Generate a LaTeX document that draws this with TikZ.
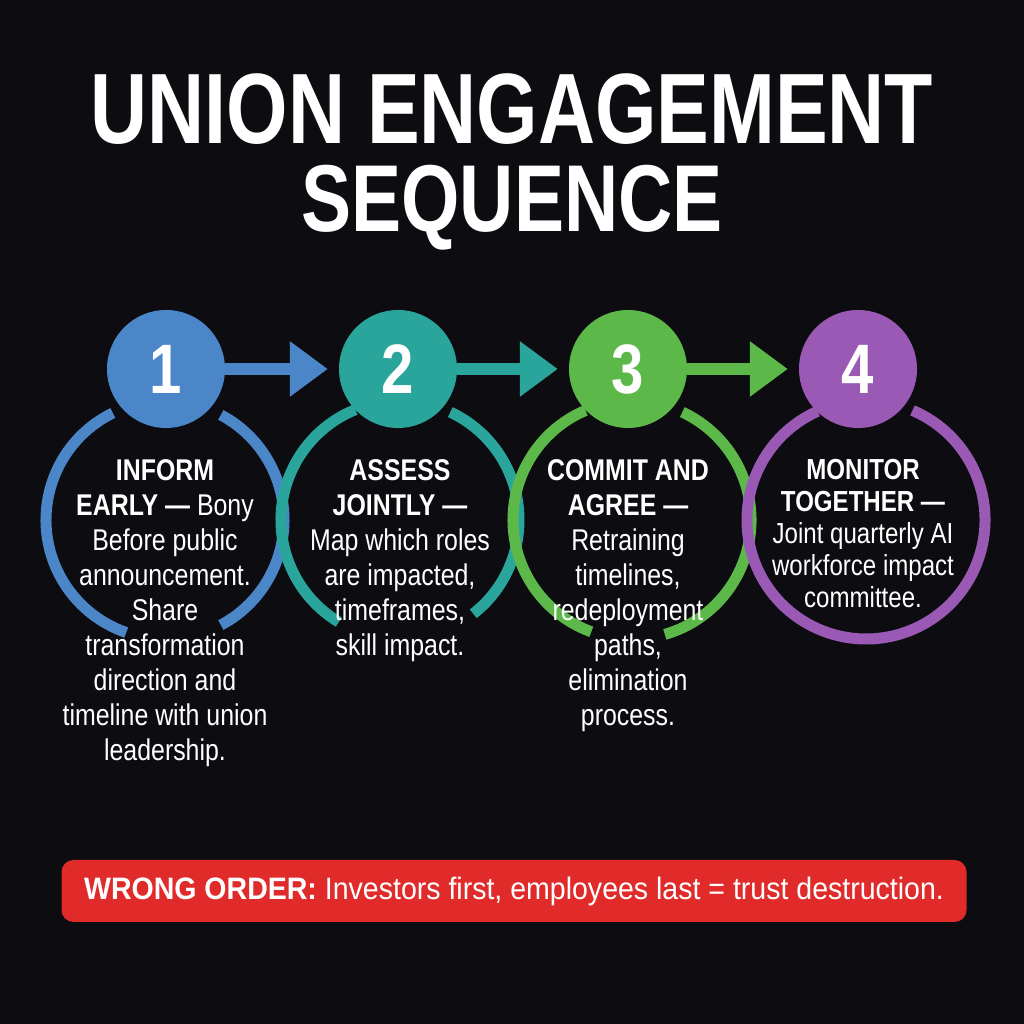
\documentclass[tikz,border=0pt]{standalone}
\usepackage{fontspec}
\setmainfont[FakeStretch=0.83]{Liberation Sans}
\newfontfamily\titlefont[FakeStretch=0.79]{Liberation Sans}
\newfontfamily\barfont[FakeStretch=0.92]{Liberation Sans}
\usetikzlibrary{arrows.meta}
\definecolor{bgcol}{HTML}{0D0D11}
\definecolor{cblue}{HTML}{4A86C8}
\definecolor{cteal}{HTML}{2AA59B}
\definecolor{cgreen}{HTML}{5DB84A}
\definecolor{cpurple}{HTML}{9B59B6}
\definecolor{cred}{HTML}{E12A2A}
\begin{document}
\begin{tikzpicture}[x=1pt,y=1pt,
		badge/.style={circle,fill=#1,minimum size=118pt,inner sep=0pt,text=white,font=\fontsize{70}{70}\selectfont\bfseries},
		ring/.style={draw=#1,line width=11pt},
		flow/.style={draw=#1,line width=12pt,-{Triangle[length=38pt,width=53pt]},shorten >=11pt},
		stagetext/.style={text=white,align=center,anchor=north,inner sep=0pt,font=\fontsize{30}{35}\selectfont},
		titletext/.style={text=white,align=center,anchor=north,inner sep=0pt,font=\titlefont\fontsize{100}{88}\selectfont\bfseries}]
		\fill [bgcol] (0,0) rectangle (1024,1024);
		\useasboundingbox (0,0) rectangle (1024,1024);
		\node [titletext] (title) at (512,951) {UNION ENGAGEMENT\\{\fontsize{95}{88}\selectfont SEQUENCE}};
		\coordinate (r1) at (165,504);
		\coordinate (r2) at (400,504);
		\coordinate (r3) at (632,504);
		\coordinate (r4) at (866,504);
		\draw [ring=cblue] (r1) ++(-62:119) arc (-62:62:119);
		\draw [ring=cblue] (r1) ++(116:119) arc (116:251:119);
		\draw [ring=cteal] (r2) ++(-52:119) arc (-52:65:119);
		\draw [ring=cteal] (r2) ++(112:119) arc (112:239:119);
		\draw [ring=cgreen] (r3) ++(-74:119) arc (-74:65:119);
		\draw [ring=cgreen] (r3) ++(113:119) arc (113:250:119);
		\draw [ring=cpurple] (r4) ++(114:119) arc (114:427:119);
		\node [badge=cblue] (b1) at (166,655) {1};
		\node [badge=cteal] (b2) at (398,655) {2};
		\node [badge=cgreen] (b3) at (628,655) {3};
		\node [badge=cpurple] (b4) at (858,655) {4};
		\draw [flow=cblue] (b1) -- (b2);
		\draw [flow=cteal] (b2) -- (b3);
		\draw [flow=cgreen] (b3) -- (b4);
		\node [stagetext] (t1) at (165,565) {\textbf{INFORM}\\\textbf{EARLY —} Bony\\Before public\\announcement.\\Share\\transformation\\direction and\\timeline with union\\leadership.};
		\node [stagetext] (t2) at (400,565) {\textbf{ASSESS}\\\textbf{JOINTLY —}\\Map which roles\\are impacted,\\timeframes,\\skill impact.};
		\node [stagetext] (t3) at (628,565) {\textbf{COMMIT AND}\\\textbf{AGREE —}\\Retraining\\timelines,\\redeployment\\paths,\\elimination\\process.};
		\node [stagetext,font=\fontsize{29}{32}\selectfont] (t4) at (863,565) {\textbf{MONITOR}\\\textbf{TOGETHER —}\\Joint quarterly AI\\workforce impact\\committee.};
		\node [fill=cred,rounded corners=12pt,minimum width=905pt,minimum height=62pt,inner sep=0pt,text=white,font=\barfont\fontsize{31}{31}\selectfont] (warn) at (514,133) {\textbf{WRONG ORDER:} Investors first, employees last = trust destruction.};
	\end{tikzpicture}
\end{document}
